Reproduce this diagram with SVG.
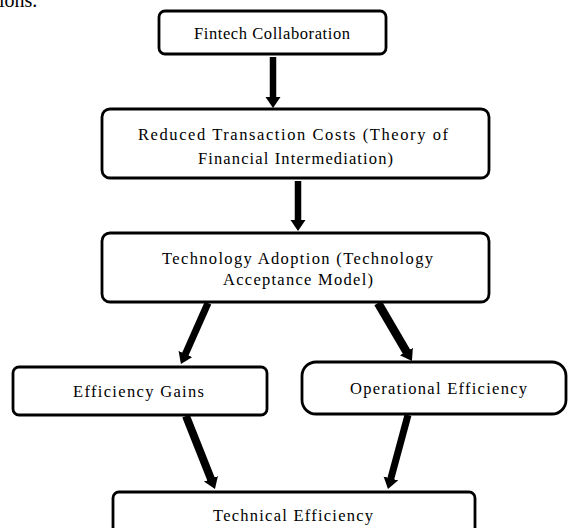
<svg xmlns="http://www.w3.org/2000/svg" width="569" height="528" viewBox="0 0 569 528">
<defs>
<style>
.box{fill:#fff;stroke:#000;stroke-width:2.8}
.t{font-family:"Liberation Serif","Times New Roman",serif;font-size:16.5px;fill:#000;text-anchor:middle}
.a{stroke:#000;fill:none}
</style>
<marker id="ah" markerUnits="userSpaceOnUse" markerWidth="14" markerHeight="16" refX="1" refY="7.5" orient="auto" viewBox="0 0 14 16">
<path d="M0,0 L11,7.5 L0,15 z" fill="#000"/>
</marker>
</defs>
<rect width="569" height="528" fill="#fff"/>
<text x="-1" y="7" style="font-family:'Liberation Serif',serif;font-size:20px">ions.</text>
<g id="connectors">
<line class="a" x1="273" y1="57" x2="273" y2="98" stroke-width="6.5" marker-end="url(#ah)"/>
<line class="a" x1="298" y1="181" x2="298" y2="221" stroke-width="6.5" marker-end="url(#ah)"/>
<line class="a" x1="208" y1="303" x2="185" y2="354.9" stroke-width="7" marker-end="url(#ah)"/>
<line class="a" x1="378" y1="303" x2="406.9" y2="352.4" stroke-width="8.5" marker-end="url(#ah)"/>
<line class="a" x1="186" y1="416" x2="211.3" y2="479.7" stroke-width="8" marker-end="url(#ah)"/>
<line class="a" x1="408" y1="415" x2="390.6" y2="479.4" stroke-width="7" marker-end="url(#ah)"/>
</g>
<g id="fintech">
<rect class="box" x="159" y="11" width="227" height="43" rx="6"/>
<text class="t" x="272" y="39" textLength="156" lengthAdjust="spacing">Fintech Collaboration</text>
</g>
<g id="reduced">
<rect class="box" x="102" y="109" width="387" height="69" rx="8"/>
<text class="t" x="293" y="140" textLength="310" lengthAdjust="spacing">Reduced Transaction Costs (Theory of</text>
<text class="t" x="295.5" y="164" textLength="195" lengthAdjust="spacing">Financial Intermediation)</text>
</g>
<g id="adoption">
<rect class="box" x="102" y="233" width="387" height="69" rx="8"/>
<text class="t" x="297.5" y="264" textLength="271" lengthAdjust="spacing">Technology Adoption (Technology</text>
<text class="t" x="298" y="285" textLength="150" lengthAdjust="spacing">Acceptance Model)</text>
</g>
<g id="gains">
<rect class="box" x="13" y="367" width="254" height="48" rx="6"/>
<text class="t" x="138.5" y="397" textLength="131" lengthAdjust="spacing">Efficiency Gains</text>
</g>
<g id="operational">
<rect class="box" x="302" y="362" width="264" height="52" rx="14"/>
<text class="t" x="438.5" y="394" textLength="177" lengthAdjust="spacing">Operational Efficiency</text>
</g>
<g id="technical">
<rect class="box" x="113" y="492" width="362" height="50" rx="6"/>
<text class="t" x="293" y="521" textLength="160" lengthAdjust="spacing">Technical Efficiency</text>
</g>
</svg>
